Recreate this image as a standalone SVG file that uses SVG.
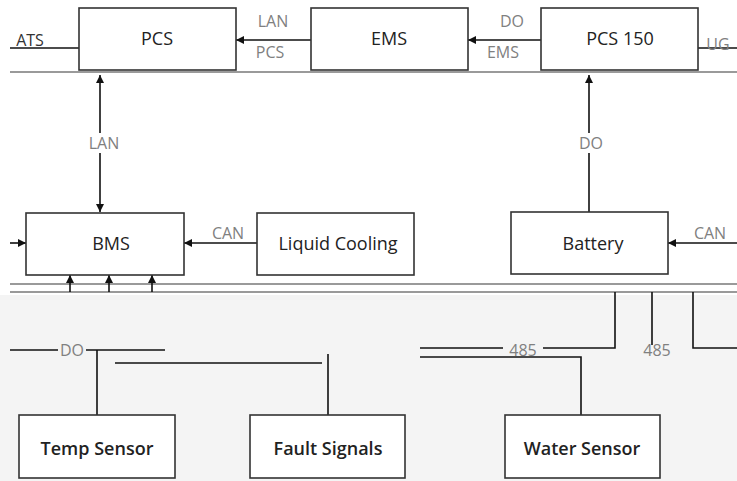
<svg xmlns="http://www.w3.org/2000/svg" width="737" height="481" viewBox="0 0 737 481">
<defs>
<marker id="ah" viewBox="0 0 10 10" refX="10" refY="5" markerWidth="8" markerHeight="8" orient="auto-start-reverse" markerUnits="userSpaceOnUse">
<path d="M0,0 L10,5 L0,10 z" fill="#111"/>
</marker>
<style>
.box{fill:#ffffff;stroke:#333;stroke-width:1.6}
.t{font-family:"Open Sans","Noto Sans",sans-serif;font-size:18px;fill:#222;text-anchor:middle;dominant-baseline:central}
.tb{font-family:"Open Sans","Noto Sans",sans-serif;font-size:18px;font-weight:600;fill:#222;text-anchor:middle;dominant-baseline:central}
.lbl{font-family:"Open Sans","Noto Sans",sans-serif;font-size:16px;fill:#808080;text-anchor:middle;dominant-baseline:central}
.ln{fill:none;stroke:#111;stroke-width:1.6}
.arr{fill:none;stroke:#111;stroke-width:1.6;marker-end:url(#ah)}
.arr2{fill:none;stroke:#111;stroke-width:1.6;marker-end:url(#ah);marker-start:url(#ah)}
.stripe{stroke:#9a9a9a;stroke-width:2}
</style>
</defs>
<rect x="0" y="0" width="737" height="481" fill="#ffffff"/>
<rect x="0" y="295" width="737" height="186" fill="#f4f4f4"/>
<line class="stripe" x1="10" y1="72" x2="737" y2="72"/>
<line class="stripe" x1="10" y1="284" x2="737" y2="284"/>
<line class="stripe" x1="10" y1="292" x2="737" y2="292"/>

<g id="connectors">
<path class="ln" d="M10,48 H79"/>
<path class="arr" d="M311,40 H236"/>
<path class="arr" d="M541,40 H468"/>
<path class="ln" d="M698,48 H737"/>
<path class="arr2" d="M100,75 V212"/>
<rect x="84" y="133" width="40" height="20" fill="#ffffff"/>
<path class="arr" d="M589,212 V75"/>
<rect x="575" y="133" width="32" height="20" fill="#ffffff"/>
<path class="arr" d="M257,243 H184"/>
<path class="arr" d="M10,243 H26"/>
<path class="arr" d="M737,243 H668"/>
<path class="arr" d="M70,292 V275"/>
<path class="arr" d="M109,292 V275"/>
<path class="arr" d="M152,292 V275"/>
<path class="ln" d="M10,350 H58 M86,350 H165"/>
<path class="ln" d="M97,415 V350"/>
<path class="ln" d="M115,363 H322"/>
<path class="ln" d="M328,415 V354"/>
<path class="ln" d="M581,415 V357 H420"/>
<path class="ln" d="M420,348 H503 M543,348 H615 V292"/>
<path class="ln" d="M652,292 V345"/>
<path class="ln" d="M693,292 V348 H737"/>
</g>

<g id="labels">
<text class="lbl" x="30" y="40" style="fill:#333">ATS</text>
<text class="lbl" x="273" y="21">LAN</text>
<text class="lbl" x="270" y="52">PCS</text>
<text class="lbl" x="512" y="21">DO</text>
<text class="lbl" x="503" y="52">EMS</text>
<text class="lbl" x="718" y="44">UG</text>
<text class="lbl" x="104" y="143">LAN</text>
<text class="lbl" x="591" y="143">DO</text>
<text class="lbl" x="228" y="233">CAN</text>
<text class="lbl" x="710" y="233">CAN</text>
<text class="lbl" x="72" y="350">DO</text>
<text class="lbl" x="523" y="350">485</text>
<text class="lbl" x="657" y="350">485</text>
</g>

<g id="node-pcs"><rect class="box" x="79" y="8" width="157" height="62"/><text class="t" x="157" y="38">PCS</text></g>
<g id="node-ems"><rect class="box" x="311" y="8" width="157" height="62"/><text class="t" x="389" y="38">EMS</text></g>
<g id="node-bcs"><rect class="box" x="541" y="8" width="157" height="62"/><text class="t" x="620" y="38">PCS 150</text></g>

<g id="node-bms"><rect class="box" x="26" y="213" width="158" height="62"/><text class="t" x="111" y="243">BMS</text></g>
<g id="node-cooling"><rect class="box" x="257" y="213" width="157" height="62"/><text class="t" x="338" y="243">Liquid Cooling</text></g>
<g id="node-battery"><rect class="box" x="511" y="212" width="157" height="62"/><text class="t" x="593" y="243">Battery</text></g>

<g id="node-temp"><rect class="box" x="19" y="415" width="156" height="63"/><text class="tb" x="97" y="448">Temp Sensor</text></g>
<g id="node-fault"><rect class="box" x="250" y="415" width="155" height="63"/><text class="tb" x="328" y="448">Fault Signals</text></g>
<g id="node-water"><rect class="box" x="505" y="415" width="155" height="63"/><text class="tb" x="582" y="448">Water Sensor</text></g>
</svg>
